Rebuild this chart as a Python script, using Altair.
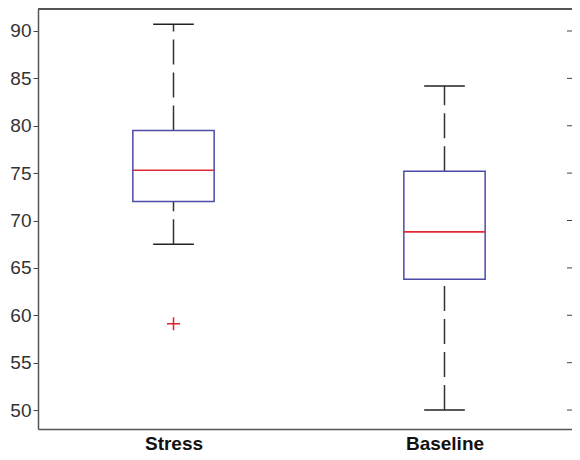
import altair as alt
import pandas as pd

# ---- data ----
groups = ["Stress", "Baseline"]
positions = [1, 2]
whisker_low = [67.5, 50.0]
q1 = [72.0, 63.8]
medians = [75.3, 68.8]
q3 = [79.5, 75.2]
whisker_high = [90.7, 84.2]
outlier_pos = [1]
outlier_values = [59.1]
y_ticks = [50, 55, 60, 65, 70, 75, 80, 85, 90]

df = pd.DataFrame(dict(group=groups, pos=positions, lo=whisker_low, q1=q1,
                       med=medians, q3=q3, hi=whisker_high))
out = pd.DataFrame(dict(pos=outlier_pos, val=outlier_values))
ticks = pd.DataFrame(dict(t=y_ticks))

W, H = 534, 420
FONT = "Liberation Sans"
BOX_HALF = 0.15
CAP_HALF = 0.075
FRAME = "#555"

# the reference axis runs 0.5..2.5 over 542 px; only 534 px fit the window
xs = alt.Scale(domain=[0.5, 0.5 + 2.0 * W / 542], nice=False, zero=False)
ys = alt.Scale(domain=[48, 92.32], nice=False, zero=False)

label_expr = " : ".join(
    f"datum.value == {p} ? '{g}'" for p, g in zip(positions, groups)) + " : ''"

x_axis = alt.Axis(values=positions, labelExpr=label_expr, ticks=False,
                  grid=False, title=None, domainColor=FRAME, domainWidth=1.5,
                  labelFont=FONT, labelFontSize=19, labelFontWeight="bold",
                  labelColor="#111", labelPadding=5)
y_axis = alt.Axis(values=y_ticks, grid=False, title=None, domainColor=FRAME,
                  domainWidth=1.5, tickColor="#444", tickSize=5, tickWidth=1,
                  labelFont=FONT, labelFontSize=19, labelColor="#333",
                  labelPadding=2)


def X(f):
    return alt.X(f, type="quantitative", scale=xs, axis=x_axis)


def Y(f):
    return alt.Y(f, type="quantitative", scale=ys, axis=y_axis)


base = alt.Chart(df).transform_calculate(
    xl=f"datum.pos - {BOX_HALF}", xr=f"datum.pos + {BOX_HALF}",
    cl=f"datum.pos - {CAP_HALF}", cr=f"datum.pos + {CAP_HALF}")

whisk_style = dict(color="#333", strokeWidth=1.5, strokeDash=[25, 8])
upper_w = base.mark_rule(**whisk_style).encode(x=X("pos"), y=Y("q3"), y2="hi")
lower_w = base.mark_rule(**whisk_style).encode(x=X("pos"), y=Y("lo"), y2="q1")
cap_hi = base.mark_rule(color="#222", strokeWidth=1.5).encode(x=X("cl"), x2="cr", y=Y("hi"))
cap_lo = base.mark_rule(color="#222", strokeWidth=1.5).encode(x=X("cl"), x2="cr", y=Y("lo"))
box = base.mark_rect(fill="white", stroke="#4b4ba8", strokeWidth=1.5).encode(
    x=X("xl"), x2="xr", y=Y("q1"), y2="q3")
med = base.mark_rule(color="#e02a35", strokeWidth=1.6).encode(x=X("xl"), x2="xr", y=Y("med"))
outl = alt.Chart(out).mark_point(shape="M-1,0L1,0M0,-1L0,1", size=169,
                                  color="#e0202c", strokeWidth=1.5,
                                  filled=False, opacity=1).encode(x=X("pos"), y=Y("val"))
rticks = alt.Chart(ticks).mark_rule(color="#444", strokeWidth=1).encode(
    y=Y("t"), x=alt.value(W - 5), x2=alt.value(W))
top_border = alt.Chart(ticks).mark_rule(color=FRAME, strokeWidth=2).encode(
    x=alt.value(0), x2=alt.value(W), y=alt.value(0))

chart = alt.layer(upper_w, lower_w, cap_hi, cap_lo, box, med, outl, rticks,
                  top_border).properties(
    width=W, height=H,
    autosize=alt.AutoSizeParams(type="none"),
    padding={"left": 30, "top": 1, "right": 0, "bottom": 23},
    background="white",
).configure_view(strokeWidth=0)

chart.save("out.html", embed_options={"renderer": "svg", "actions": False})
